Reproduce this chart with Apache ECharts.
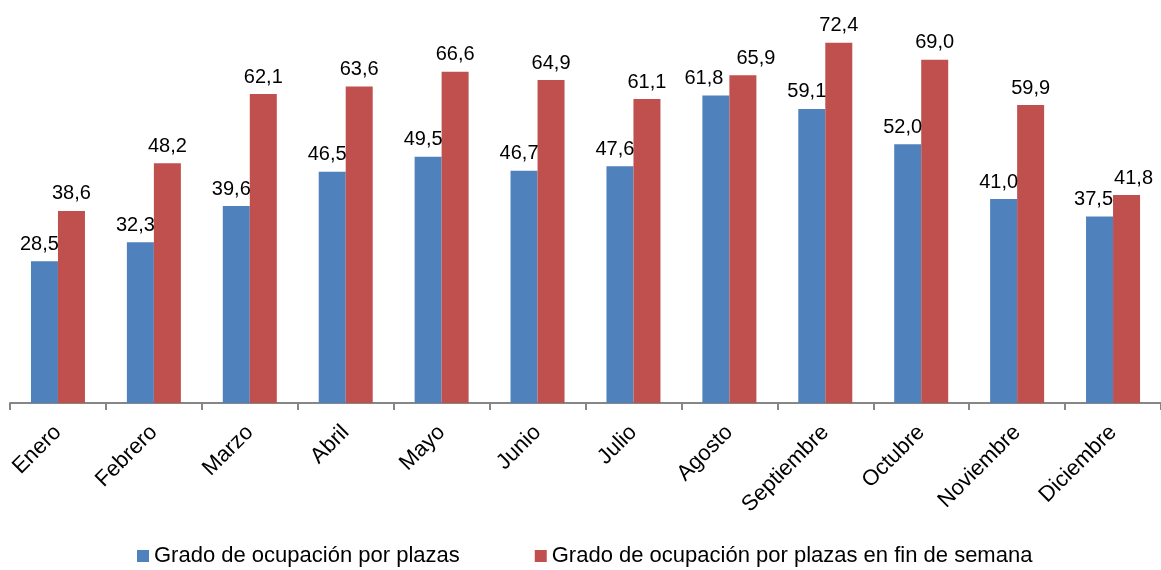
<!DOCTYPE html>
<html>
<head>
<meta charset="utf-8">
<script src="https://cdn.jsdelivr.net/npm/echarts@6/dist/echarts.min.js"></script>
<style>
html,body{margin:0;padding:0;background:#fff;}
#c{width:1161px;height:570px;}
</style>
</head>
<body>
<div id="c"></div>
<script>
const categories = ['Enero','Febrero','Marzo','Abril','Mayo','Junio','Julio','Agosto','Septiembre','Octubre','Noviembre','Diciembre'];
const seriesNames = ['Grado de ocupación por plazas','Grado de ocupación por plazas en fin de semana'];
const plazas = [28.5,32.3,39.6,46.5,49.5,46.7,47.6,61.8,59.1,52.0,41.0,37.5];
const finSemana = [38.6,48.2,62.1,63.6,66.6,64.9,61.1,65.9,72.4,69.0,59.9,41.8];

// label nudges (style only), as placed in the reference to avoid overlaps
const blueLabelShift = {7: -12, 11: -6};
const redLabelShift = {7: 13, 11: 7};

const FONT = '"Liberation Sans", Arial, Helvetica, sans-serif';
const fmt = p => p.value.toFixed(1).replace('.', ',');

const withShift = (arr, shifts, def) => arr.map((v, i) => ({
  value: v,
  label: {offset: [shifts[i] !== undefined ? shifts[i] : def, 0]}
}));

const chart = echarts.init(document.getElementById('c'), null, {renderer:'canvas'});
chart.setOption({
  backgroundColor: '#ffffff',
  animation: false,
  grid: {left: 10, right: -7, top: 5, bottom: 167, containLabel: false},
  legend: {
    bottom: -2,
    left: 132,
    icon: 'rect',
    itemWidth: 12,
    itemHeight: 12,
    itemGap: 75,
    textStyle: {fontFamily: FONT, fontSize: 22, color: '#000'},
    data: seriesNames
  },
  xAxis: {
    type: 'category',
    data: categories,
    boundaryGap: true,
    axisLine: {lineStyle: {color: '#868686', width: 2}},
    axisTick: {show: true, length: 7, lineStyle: {color: '#868686', width: 2}},
    axisLabel: {rotate: 45, margin: 26, fontFamily: FONT, fontSize: 22, color: '#000', interval: 0}
  },
  yAxis: {
    type: 'value',
    min: 0, max: 80,
    show: false,
    splitLine: {show: false}
  },
  series: [
    {
      name: seriesNames[0],
      type: 'bar',
      data: withShift(plazas, blueLabelShift, -5),
      barWidth: 27,
      barGap: '0%',
      itemStyle: {color: '#4F81BD'},
      label: {show: true, position: 'top', distance: 7, formatter: fmt,
              fontFamily: FONT, fontSize: 20, color: '#000'}
    },
    {
      name: seriesNames[1],
      type: 'bar',
      data: withShift(finSemana, redLabelShift, 0),
      barWidth: 27,
      barGap: '0%',
      itemStyle: {color: '#C0504D'},
      label: {show: true, position: 'top', distance: 7, formatter: fmt,
              fontFamily: FONT, fontSize: 20, color: '#000'}
    }
  ]
});
</script>
</body>
</html>
